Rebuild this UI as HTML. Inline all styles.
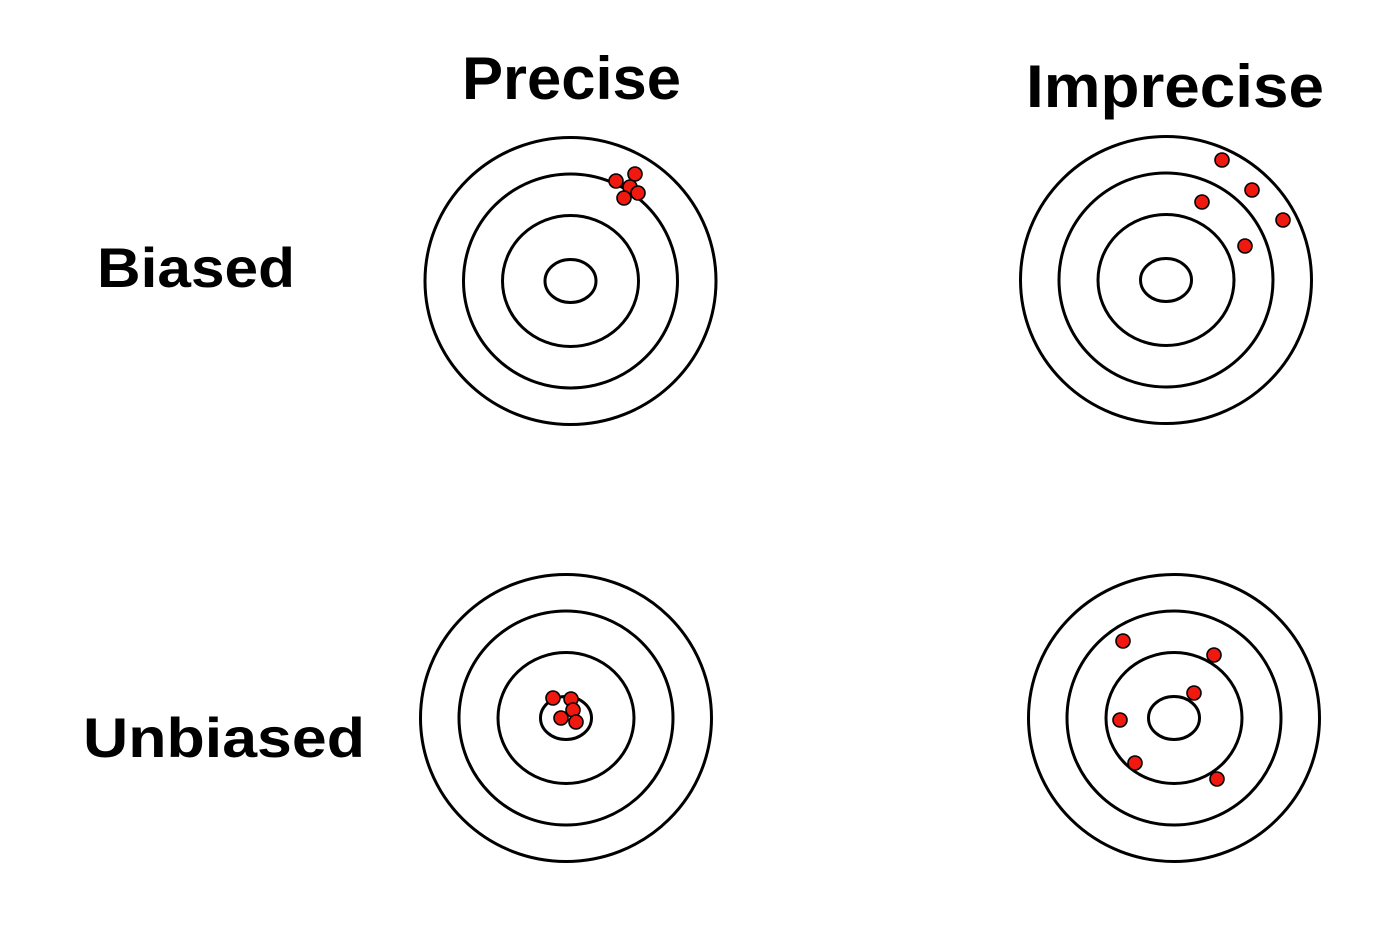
<!DOCTYPE html>
<html><head><meta charset="utf-8"><style>
html,body{margin:0;padding:0;background:#fff;}
svg{display:block;}
text{font-family:"Liberation Sans",sans-serif;font-weight:bold;fill:#000;}
</style></head><body>
<svg id="chart" width="1381" height="930" viewBox="0 0 1381 930">
<text x="462" y="99" font-size="60" textLength="219" lengthAdjust="spacingAndGlyphs">Precise</text>
<text x="1026" y="107" font-size="60" textLength="298" lengthAdjust="spacingAndGlyphs">Imprecise</text>
<text x="97" y="287" font-size="56" textLength="198" lengthAdjust="spacingAndGlyphs">Biased</text>
<text x="83" y="757" font-size="56" textLength="282" lengthAdjust="spacingAndGlyphs">Unbiased</text>
<g id="targets"></g>
</svg>
<script>
const targetNames = ['biased-precise','biased-imprecise','unbiased-precise','unbiased-imprecise'];
const centersX = [570.5, 1166, 566, 1174];
const centersY = [281, 280, 718, 718];
const ringRx = [145.5, 107, 68, 25.5];
const ringRy = [143.5, 107, 65.5, 21.5];
const shotsX = [
  [616,635,630,638,624],
  [1222,1252,1202,1283,1245],
  [553,571,573,561,576],
  [1123,1214,1194,1120,1135,1217]
];
const shotsY = [
  [181,174,187,193,198],
  [160,190,202,220,246],
  [698,699,710,718,722],
  [641,655,693,720,763,779]
];
const NS='http://www.w3.org/2000/svg';
const g=document.getElementById('targets');
targetNames.forEach((name,t)=>{
  const tg=document.createElementNS(NS,'g');
  
  
  ringRx.forEach((rx,i)=>{
    const e=document.createElementNS(NS,'ellipse');
    
    
    e.setAttribute('cx',centersX[t]);e.setAttribute('cy',centersY[t]);
    e.setAttribute('rx',rx);e.setAttribute('ry',ringRy[i]);
    e.setAttribute('fill','none');e.setAttribute('stroke','#000');e.setAttribute('stroke-width','3');
    tg.appendChild(e);
  });
  shotsX[t].forEach((x,i)=>{
    const c=document.createElementNS(NS,'circle');
    
    
    c.setAttribute('cx',x);c.setAttribute('cy',shotsY[t][i]);c.setAttribute('r','7');
    c.setAttribute('fill','#f0190f');c.setAttribute('stroke','#000');c.setAttribute('stroke-width','1.6');
    tg.appendChild(c);
  });
  g.appendChild(tg);
});
</script>
</body></html>
